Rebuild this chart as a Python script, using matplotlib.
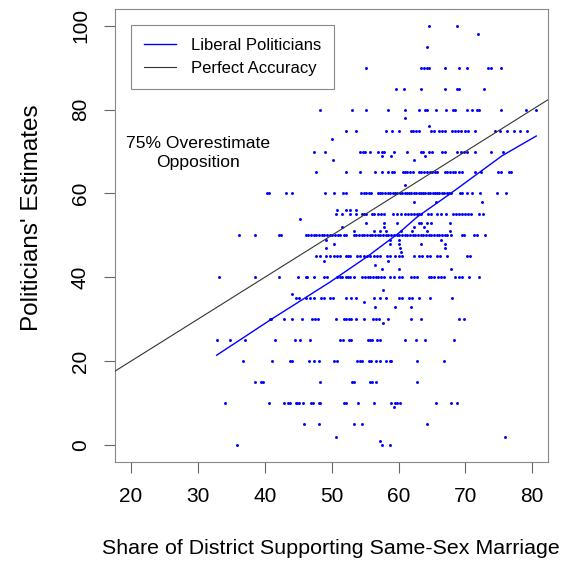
import matplotlib
matplotlib.use("Agg")
import matplotlib.pyplot as plt
import numpy as np

plt.rcParams['font.family'] = ['Liberation Sans', 'DejaVu Sans']

# district support (x) for each politician estimate level (y)
share_at_100 = [64.5, 68.8]
share_at_98 = [71.9]
share_at_95 = [64.3]
share_at_90 = [55.2, 63.4, 63.8, 64.2, 64.6, 66.9, 69.0, 70.2, 73.4, 73.9, 75.4]
share_at_85 = [59.6, 60.8, 63.3, 66.9, 68.7, 69.1, 72.8]
share_at_80 = [48.3, 53.1, 55.2, 58.5, 60.9, 63.0, 64.0, 64.3, 65.6, 67.1, 68.1,
               68.5, 70.2, 71.0, 71.8, 72.1, 75.3, 79.0, 80.5]
share_at_78 = [60.9]
share_at_76 = [64.5]
share_at_75 = [52.2, 53.7, 58.2, 59.1, 60.1, 61.8, 62.2, 62.6, 63.0, 64.8, 65.3,
               66.0, 66.5, 67.0, 68.0, 68.4, 68.9, 69.4, 69.9, 70.4, 71.4, 74.5,
               75.2, 76.2, 77.2, 78.2, 79.2]
share_at_73 = [50.1]
share_at_70 = [47.3, 49.0, 54.3, 54.7, 55.0, 55.8, 57.0, 57.6, 57.9, 59.3, 61.3,
               63.3, 63.7, 64.5, 65.0, 66.5, 67.0, 68.8, 69.3, 69.8, 70.3, 71.5,
               73.8, 75.7]
share_at_69 = [57.6, 58.9, 64.0]
share_at_68 = [50.2, 62.3]
share_at_65 = [47.7, 52.2, 54.3, 56.5, 57.5, 58.5, 59.0, 59.3, 60.6, 60.9, 61.3,
               61.7, 62.1, 63.0, 63.4, 63.8, 64.2, 64.7, 65.0, 65.4, 65.8, 67.0,
               67.3, 67.7, 68.2, 68.5, 69.0, 69.5, 71.4, 72.4, 74.9, 75.4, 76.5, 76.8]
share_at_62 = [61.0]
share_at_60 = [40.3, 40.7, 43.2, 44.0, 49.0, 50.4, 51.7, 52.2, 54.4, 54.8, 55.2,
               55.6, 55.9, 56.9, 57.3, 57.6, 58.0, 58.4, 58.8, 59.2, 59.5, 59.8,
               60.2, 60.5, 60.9, 61.2, 61.6, 61.9, 62.3, 62.6, 63.0, 63.3, 63.7,
               64.0, 64.4, 64.7, 65.1, 65.4, 65.8, 66.1, 66.5, 66.8, 67.2, 67.5,
               67.8, 69.2, 69.5, 70.3, 71.0, 72.2, 74.8, 76.0]
share_at_58 = [62.3, 65.6, 72.5]
share_at_56 = [50.8, 52.1, 52.7, 53.7]
share_at_55 = [50.6, 51.6, 52.7, 53.7, 54.6, 54.8, 55.1, 56.1, 56.4, 56.9, 57.4,
               57.8, 59.2, 59.7, 60.4, 60.9, 61.4, 61.9, 62.3, 62.7, 63.1, 63.4,
               64.4, 64.9, 65.7, 66.4, 67.1, 68.1, 68.6, 69.1, 69.5, 69.9, 70.4,
               70.9, 72.1, 72.6]
share_at_54 = [45.2]
share_at_53 = [55.1, 57.9, 59.8, 63.0, 63.4, 64.3, 64.8, 67.7]
share_at_52 = [51.6, 57.9, 62.3, 63.8]
share_at_51 = [53.4, 56.4, 57.3, 58.1, 60.3, 62.0, 64.3, 67.7]
share_at_50 = [36.1, 38.6, 42.2, 42.4, 46.1, 46.5, 46.9, 47.3, 47.7, 48.1, 48.5,
               48.9, 49.3, 49.7, 50.1, 50.5, 50.9, 51.3, 51.8, 52.2, 53.3, 53.7,
               54.1, 54.5, 54.9, 55.3, 55.7, 56.1, 56.5, 56.9, 57.3, 57.7, 58.1,
               58.5, 58.9, 59.3, 59.7, 60.1, 60.5, 60.9, 61.3, 61.7, 62.1, 62.5,
               62.9, 63.3, 63.7, 64.1, 64.5, 64.9, 65.3, 65.7, 66.1, 66.5, 66.9,
               67.3, 67.8, 69.5, 69.8, 71.3, 71.8, 73.0]
share_at_49 = [49.2, 58.7, 60.1, 66.3]
share_at_48 = [50.4, 58.8, 60.1, 63.4, 66.9]
share_at_47 = [49.1, 60.2, 67.0]
share_at_46 = [60.3]
share_at_45 = [47.6, 48.3, 49.1, 49.8, 50.3, 50.8, 51.3, 52.1, 52.4, 52.8, 53.8,
               54.3, 54.8, 55.3, 55.8, 56.3, 56.8, 57.3, 58.3, 58.7, 59.5, 60.0,
               60.5, 62.3, 63.0, 63.5, 64.3, 64.7, 65.7, 66.2, 67.3, 70.2, 70.7]
share_at_44 = [48.9, 58.5]
share_at_43 = [56.5]
share_at_42 = [57.5, 60.0, 67.9]
share_at_40 = [33.1, 38.6, 42.1, 45.0, 46.1, 46.3, 47.4, 48.8, 49.3, 50.8, 51.2,
               51.6, 52.1, 52.5, 52.8, 53.3, 54.6, 55.0, 55.4, 55.8, 56.2, 56.6,
               57.0, 57.4, 57.8, 58.8, 59.3, 60.0, 60.5, 61.8, 62.3, 62.8, 64.5,
               64.8, 65.3, 65.9, 66.3, 66.8, 68.5, 69.0, 69.5, 70.5, 72.0]
share_at_37 = [57.7]
share_at_36 = [44.0]
share_at_35 = [44.7, 45.1, 46.1, 46.8, 47.3, 48.4, 48.8, 49.8, 50.2, 52.1, 52.9,
               53.6, 56.3, 57.3, 58.2, 60.0, 60.5, 61.5, 62.0, 63.0, 64.7, 68.0]
share_at_34 = [54.8]
share_at_33 = [56.5, 59.4, 61.8]
share_at_30 = [40.8, 41.0, 42.9, 44.1, 45.6, 47.1, 47.5, 48.0, 50.7, 51.8, 52.2,
               52.6, 52.9, 53.6, 54.8, 56.2, 56.7, 57.1, 58.5, 61.8, 63.3, 69.0, 69.8]
share_at_29 = [57.7]
share_at_25 = [32.8, 34.8, 37.1, 41.6, 44.5, 45.3, 46.8, 51.3, 51.7, 52.6, 52.9,
               55.4, 55.7, 56.1, 56.8, 57.2, 60.9, 62.6, 64.0, 68.3]
share_at_20 = [36.7, 41.1, 43.7, 44.1, 46.6, 47.4, 48.1, 50.3, 50.8, 53.8, 54.3,
               54.6, 55.6, 55.9, 56.6, 57.3, 58.1, 58.7, 58.9, 62.8, 66.8]
share_at_15 = [38.5, 39.4, 39.7, 48.2, 53.1, 53.3, 55.7, 56.1, 56.6, 62.8]
share_at_10 = [34.1, 40.6, 42.9, 43.4, 43.7, 44.6, 44.8, 45.1, 45.7, 46.9, 47.2,
               48.1, 48.3, 51.8, 52.1, 53.9, 56.3, 58.9, 59.5, 59.8, 60.2, 65.6,
               67.9, 68.8]
share_at_9 = [59.3]
share_at_5 = [45.8, 48.1, 53.3, 54.5, 64.3]
share_at_2 = [50.6, 75.9]
share_at_1 = [57.3]
share_at_0 = [35.9, 57.5, 58.7]

rows = [(100, share_at_100), (98, share_at_98), (95, share_at_95), (90, share_at_90),
        (85, share_at_85), (80, share_at_80), (78, share_at_78), (76, share_at_76),
        (75, share_at_75), (73, share_at_73), (70, share_at_70), (69, share_at_69),
        (68, share_at_68), (65, share_at_65), (62, share_at_62), (60, share_at_60),
        (58, share_at_58), (56, share_at_56), (55, share_at_55), (54, share_at_54),
        (53, share_at_53), (52, share_at_52), (51, share_at_51), (50, share_at_50),
        (49, share_at_49), (48, share_at_48), (47, share_at_47), (46, share_at_46),
        (45, share_at_45), (44, share_at_44), (43, share_at_43), (42, share_at_42),
        (40, share_at_40), (37, share_at_37), (36, share_at_36), (35, share_at_35),
        (34, share_at_34), (33, share_at_33), (30, share_at_30), (29, share_at_29),
        (25, share_at_25), (20, share_at_20), (15, share_at_15), (10, share_at_10),
        (9, share_at_9), (5, share_at_5), (2, share_at_2), (1, share_at_1),
        (0, share_at_0)]

# fitted curve for liberal politicians
fit_x = [32.8, 41.0, 49.8, 55.3, 60.0, 62.8, 67.8, 75.5, 80.6]
fit_y = [21.4, 30.0, 38.9, 44.9, 50.5, 54.4, 60.0, 69.0, 73.7]

xs = np.concatenate([np.array(v, dtype=float) for _, v in rows])
ys = np.concatenate([np.full(len(v), float(k)) for k, v in rows])

W, H = 565, 567
fig = plt.figure(figsize=(W / 100, H / 100), dpi=100)
ax = fig.add_axes([115 / W, (H - 461.7) / H, 433.3 / W, 452.7 / H])

ax.scatter(xs, ys, s=4.5, color='blue', linewidths=0, zorder=3)
ax.plot(fit_x, fit_y, color='blue', lw=1.0, zorder=4, label='Liberal Politicians')
ax.plot([17.6, 82.4], [17.6, 82.4], color='#333333', lw=0.8, zorder=4,
        label='Perfect Accuracy')

ax.set_xlim(17.6, 82.4)
ax.set_ylim(-4, 104)
ax.set_xticks(range(20, 81, 10))
ax.set_yticks(range(0, 101, 20))
ax.set_yticklabels([str(v) for v in range(0, 101, 20)], rotation=90, va='center')
ax.tick_params(axis='both', length=8, width=0.8, color='#666666', labelsize=15)
ax.tick_params(axis='x', pad=10)
ax.tick_params(axis='y', pad=10)
for sp in ax.spines.values():
    sp.set_color('#888888')
    sp.set_linewidth(0.8)

ax.text(30.0, 69.6, "75% Overestimate\nOpposition", ha='center', va='center',
        fontsize=12.6, linespacing=1.35)

leg = ax.legend(loc='upper left', bbox_to_anchor=(0.036, 0.965), borderaxespad=0,
                fancybox=False, edgecolor='#888888', framealpha=1, fontsize=12,
                handlelength=1.95, handletextpad=0.85, borderpad=0.8,
                labelspacing=0.45)
leg.get_frame().set_linewidth(0.8)

fig.text(331 / W, 1 - 548 / H, "Share of District Supporting Same-Sex Marriage",
         ha='center', va='center', fontsize=15.4)
fig.text(32 / W, 1 - 218 / H, "Politicians' Estimates", ha='center', va='center',
         rotation=90, fontsize=17.5)

fig.savefig("out.png", dpi=100)
